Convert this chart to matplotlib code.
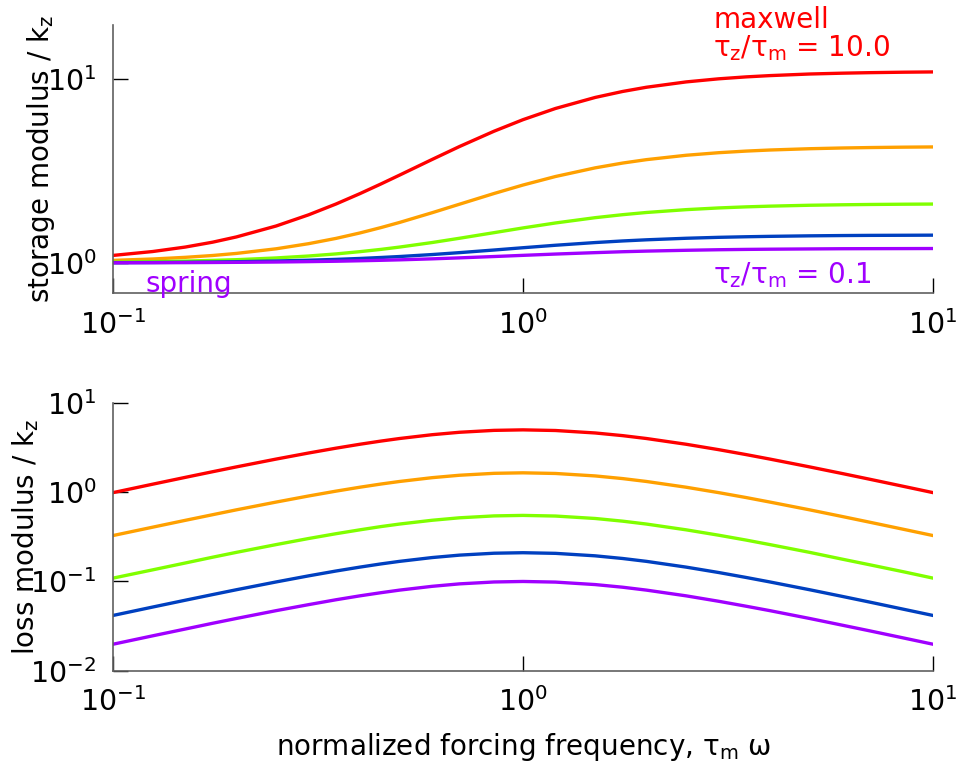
import matplotlib
matplotlib.use("Agg")
import matplotlib.pyplot as plt
from matplotlib.ticker import LogLocator, NullLocator

plt.rcParams['font.family'] = ['DejaVu Sans']
plt.rcParams['mathtext.default'] = 'regular'
plt.rcParams['axes.unicode_minus'] = False

omega = [0.1, 0.125, 0.15, 0.175, 0.2, 0.25, 0.3, 0.35, 0.4, 0.45, 0.5, 0.6, 0.7, 0.85,
         1.0, 1.2, 1.5, 1.75, 2, 2.5, 3, 3.5, 4, 5, 6, 7, 8.5, 10]

storage_red = [1.099, 1.154, 1.220, 1.297, 1.385, 1.588, 1.826, 2.091, 2.379, 2.684, 3.0, 3.647, 4.289, 5.194,
               6.0, 6.902, 7.923, 8.538, 9.0, 9.621, 10.0, 10.245, 10.41, 10.62, 10.73, 10.8, 10.864, 10.90]
storage_orange = [1.033, 1.051, 1.073, 1.098, 1.127, 1.194, 1.273, 1.360, 1.455, 1.556, 1.66, 1.874, 2.085, 2.384,
                  2.65, 2.948, 3.285, 3.488, 3.64, 3.845, 3.97, 4.051, 4.106, 4.173, 4.211, 4.234, 4.255, 4.267]
storage_green = [1.011, 1.017, 1.024, 1.033, 1.042, 1.065, 1.091, 1.120, 1.152, 1.185, 1.22, 1.291, 1.362, 1.461,
                 1.55, 1.649, 1.762, 1.829, 1.88, 1.948, 1.99, 2.017, 2.035, 2.058, 2.070, 2.078, 2.085, 2.089]
storage_blue = [1.004, 1.006, 1.009, 1.012, 1.016, 1.025, 1.035, 1.046, 1.058, 1.071, 1.084, 1.111, 1.138, 1.176,
                1.21, 1.248, 1.291, 1.317, 1.336, 1.362, 1.378, 1.388, 1.395, 1.404, 1.409, 1.412, 1.414, 1.416]
storage_purple = [1.002, 1.003, 1.004, 1.006, 1.008, 1.012, 1.017, 1.022, 1.028, 1.034, 1.04, 1.053, 1.066, 1.084,
                  1.10, 1.118, 1.138, 1.151, 1.16, 1.172, 1.18, 1.185, 1.188, 1.192, 1.195, 1.196, 1.197, 1.198]

loss_red = [0.990, 1.231, 1.467, 1.698, 1.923, 2.353, 2.752, 3.118, 3.448, 3.742, 4.0, 4.412, 4.698, 4.935,
            5.0, 4.918, 4.615, 4.308, 4.0, 3.448, 3.0, 2.642, 2.353, 1.923, 1.622, 1.40, 1.160, 0.990]
loss_orange = [0.327, 0.406, 0.484, 0.560, 0.635, 0.776, 0.908, 1.029, 1.138, 1.235, 1.32, 1.456, 1.550, 1.629,
               1.65, 1.623, 1.523, 1.422, 1.32, 1.138, 0.99, 0.872, 0.776, 0.635, 0.535, 0.462, 0.383, 0.327]
loss_green = [0.109, 0.135, 0.161, 0.187, 0.212, 0.259, 0.303, 0.343, 0.379, 0.412, 0.44, 0.485, 0.517, 0.543,
              0.55, 0.541, 0.508, 0.474, 0.44, 0.379, 0.33, 0.291, 0.259, 0.212, 0.178, 0.154, 0.128, 0.109]
loss_blue = [0.0416, 0.0517, 0.0616, 0.0713, 0.0808, 0.0988, 0.1156, 0.1310, 0.1448, 0.1572, 0.168, 0.1853, 0.1973, 0.2073,
             0.21, 0.2066, 0.1938, 0.1809, 0.168, 0.1448, 0.126, 0.1109, 0.0988, 0.0808, 0.0681, 0.0588, 0.0487, 0.0416]
loss_purple = [0.0198, 0.0246, 0.0293, 0.0340, 0.0385, 0.0471, 0.0550, 0.0624, 0.0690, 0.0748, 0.080, 0.0882, 0.0940, 0.0987,
               0.10, 0.0984, 0.0923, 0.0862, 0.080, 0.0690, 0.060, 0.0528, 0.0471, 0.0385, 0.0324, 0.028, 0.0232, 0.0198]

colors = ['#ff0000', '#ffa000', '#80ff00', '#0040c0', '#a000ff']
storage = [storage_red, storage_orange, storage_green, storage_blue, storage_purple]
loss = [loss_red, loss_orange, loss_green, loss_blue, loss_purple]

fig = plt.figure(figsize=(9.6, 7.61), dpi=100)
ax1 = fig.add_axes([113/960, 1-293/761, (933-113)/960, (293-25)/761])
ax2 = fig.add_axes([113/960, 1-670.7/761, (933-113)/960, (670.7-403)/761])

for c, s in zip(colors, storage):
    ax1.plot(omega, s, color=c, lw=2.4)
for c, l in zip(colors, loss):
    ax2.plot(omega, l, color=c, lw=2.4)

for ax in (ax1, ax2):
    ax.set_xscale('log')
    ax.set_yscale('log')
    ax.set_xlim(0.1, 10)
    for sp in ('top', 'right'):
        ax.spines[sp].set_visible(False)
    for sp in ('left', 'bottom'):
        ax.spines[sp].set_color('#606060')
        ax.spines[sp].set_linewidth(1.2)
    ax.xaxis.set_major_locator(LogLocator(base=10, numticks=10))
    ax.xaxis.set_minor_locator(NullLocator())
    ax.yaxis.set_minor_locator(NullLocator())
    ax.tick_params(which='major', direction='in', length=11, width=1, color='black',
                   labelsize=20.5, pad=12)

ax1.set_ylim(0.687, 19.6)
ax1.set_yticks([1, 10])
ax2.set_ylim(0.01, 10)
ax2.set_yticks([0.01, 0.1, 1, 10])

ax1.set_ylabel('storage modulus / k$_z$', fontsize=20)
ax1.yaxis.set_label_coords(-0.068, 0.5)
ax2.set_ylabel('loss modulus / k$_z$', fontsize=20)
ax2.yaxis.set_label_coords(-0.088, 0.5)
ax2.set_xlabel('normalized forcing frequency, τ$_m$ ω', fontsize=20)
ax2.xaxis.set_label_coords(0.5, -0.225)

ax1.text(0.732, 1.02, 'maxwell', transform=ax1.transAxes, color='#ff0000', fontsize=20, va='center', ha='left')
ax1.text(0.732, 0.915, 'τ$_z$/τ$_m$ = 10.0', transform=ax1.transAxes, color='#ff0000', fontsize=20, va='center', ha='left')
ax1.text(0.732, 0.065, 'τ$_z$/τ$_m$ = 0.1', transform=ax1.transAxes, color='#a000ff', fontsize=20, va='center', ha='left')
ax1.text(0.04, 0.035, 'spring', transform=ax1.transAxes, color='#a000ff', fontsize=20, va='center', ha='left')

fig.savefig('out.png', dpi=100)
